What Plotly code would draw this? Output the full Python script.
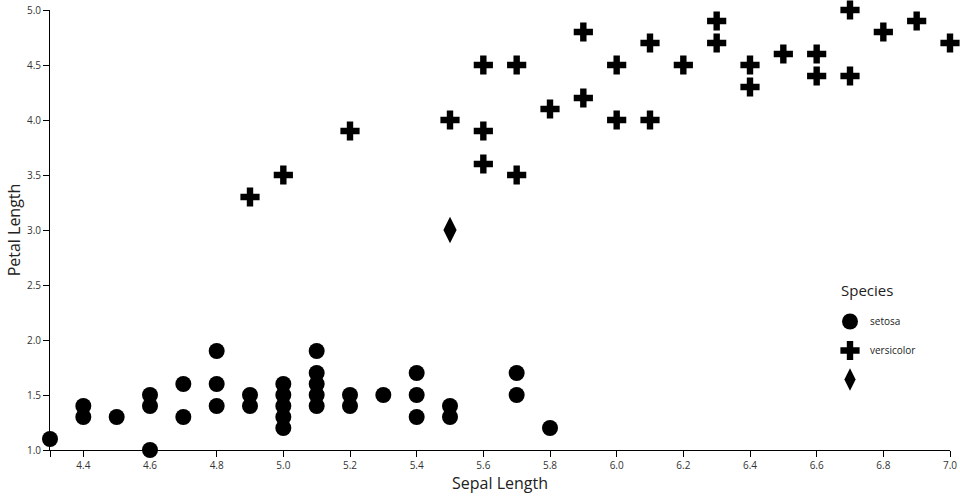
import plotly.graph_objects as go

# ---- data ----
setosa_x = [4.3, 4.4, 4.4, 4.5, 4.6, 4.6, 4.6, 4.7, 4.7, 4.8, 4.8, 4.8, 4.9, 4.9,
            5.0, 5.0, 5.0, 5.0, 5.0, 5.1, 5.1, 5.1, 5.1, 5.1, 5.2, 5.2, 5.3,
            5.4, 5.4, 5.4, 5.5, 5.5, 5.7, 5.7, 5.8]
setosa_y = [1.1, 1.4, 1.3, 1.3, 1.5, 1.4, 1.0, 1.6, 1.3, 1.9, 1.6, 1.4, 1.5, 1.4,
            1.6, 1.5, 1.4, 1.3, 1.2, 1.9, 1.7, 1.6, 1.5, 1.4, 1.5, 1.4, 1.5,
            1.7, 1.5, 1.3, 1.4, 1.3, 1.7, 1.5, 1.2]

versicolor_x = [4.9, 5.0, 5.2, 5.5, 5.6, 5.6, 5.6, 5.7, 5.7, 5.8, 5.9, 5.9,
                6.0, 6.0, 6.1, 6.1, 6.2, 6.3, 6.3, 6.4, 6.4, 6.5, 6.6, 6.6,
                6.7, 6.7, 6.8, 6.9, 7.0]
versicolor_y = [3.3, 3.5, 3.9, 4.0, 4.5, 3.9, 3.6, 4.5, 3.5, 4.1, 4.8, 4.2,
                4.5, 4.0, 4.7, 4.0, 4.5, 4.9, 4.7, 4.5, 4.3, 4.6, 4.6, 4.4,
                5.0, 4.4, 4.8, 4.9, 4.7]

other_x = [5.5]
other_y = [3.0]

species_names = ["setosa", "versicolor", ""]
legend_title = "Species"

x_tickvals = [4.3, 4.4, 4.6, 4.8, 5.0, 5.2, 5.4, 5.6, 5.8, 6.0, 6.2, 6.4, 6.6, 6.8, 7.0]
x_ticktext = ["", "4.4", "4.6", "4.8", "5.0", "5.2", "5.4", "5.6", "5.8", "6.0",
              "6.2", "6.4", "6.6", "6.8", "7.0"]
y_tickvals = [1.0, 1.5, 2.0, 2.5, 3.0, 3.5, 4.0, 4.5, 5.0]
y_ticktext = ["1.0", "1.5", "2.0", "2.5", "3.0", "3.5", "4.0", "4.5", "5.0"]

FONT = "Open Sans"

fig = go.Figure()
series = [
    (setosa_x, setosa_y, species_names[0], "circle", 16),
    (versicolor_x, versicolor_y, species_names[1], "cross", 16),
    (other_x, other_y, species_names[2], "diamond-tall", 19),
]
for i, (xs, ys, name, sym, sz) in enumerate(series):
    fig.add_trace(go.Scatter(
        x=xs, y=ys, mode="markers", name=name, legendgroup=f"g{i}",
        marker=dict(symbol=sym, size=sz, color="black", line=dict(width=0)),
        cliponaxis=False,
    ))

fig.add_annotation(
    text=legend_title, xref="paper", yref="paper",
    x=(839 - 50) / 900, y=(450 - 290) / 440, xanchor="left", yanchor="middle",
    showarrow=False, font=dict(size=15, family=FONT, color="#222"),
)

fig.update_layout(
    width=960, height=500,
    margin=dict(l=50, r=10, t=10, b=50),
    plot_bgcolor="white", paper_bgcolor="white",
    font=dict(family=FONT, color="#222"),
    showlegend=True,
    legend=dict(
        x=(830 - 50) / 900, xanchor="left", y=(450 - 307) / 440, yanchor="top",
        font=dict(size=10, family=FONT, color="#222"),
        tracegroupgap=10, itemsizing="trace", bgcolor="rgba(0,0,0,0)",
    ),
    xaxis=dict(
        range=[4.3, 7.0], tickmode="array", tickvals=x_tickvals, ticktext=x_ticktext,
        showline=True, linecolor="black", linewidth=1, ticks="outside", ticklen=6,
        tickcolor="black", showgrid=False, zeroline=False,
        tickfont=dict(size=10, family=FONT, color="#333"),
        title=dict(text="Sepal Length", font=dict(size=16, family=FONT, color="#222"), standoff=6),
        automargin=False,
    ),
    yaxis=dict(
        range=[1.0, 5.0], tickmode="array", tickvals=y_tickvals, ticktext=y_ticktext,
        showline=True, linecolor="black", linewidth=1, ticks="outside", ticklen=6,
        tickcolor="black", showgrid=False, zeroline=False,
        tickfont=dict(size=10, family=FONT, color="#333"),
        title=dict(text="Petal Length", font=dict(size=16, family=FONT, color="#222"), standoff=2),
        automargin=False,
    ),
)

fig.write_html("out.html", config={"displayModeBar": False},
               post_script="document.body.style.margin='0';")
